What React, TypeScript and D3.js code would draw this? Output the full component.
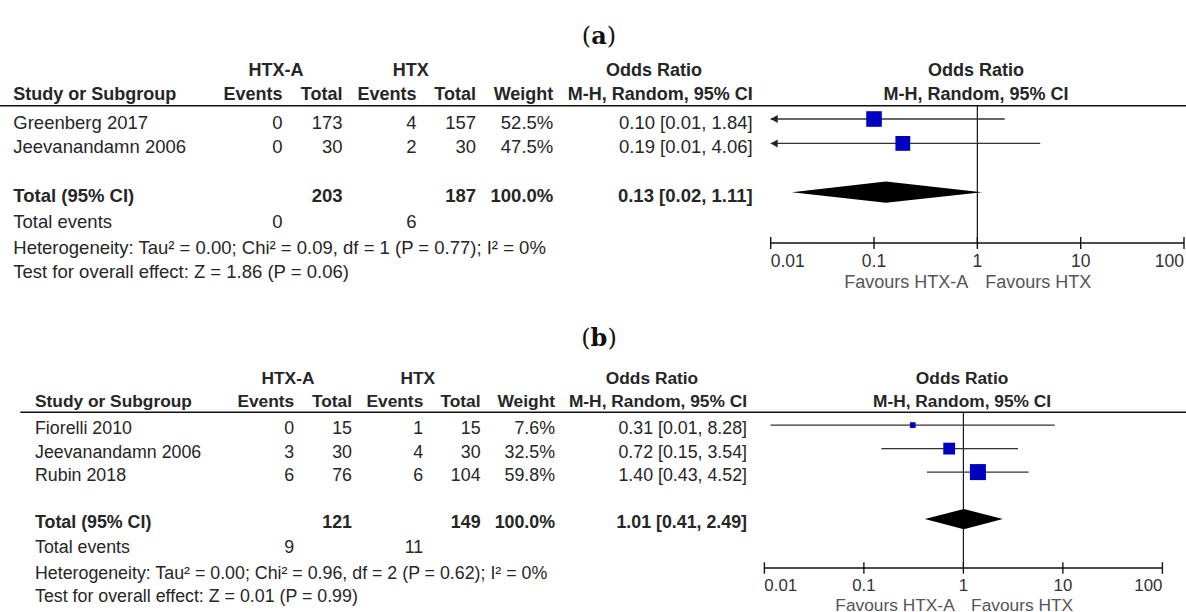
import React from "react";
import * as d3 from "d3";

const W = 1186;
const H = 612;

// ---------- Panel (a) data ----------
const aStudies = ["Greenberg 2017", "Jeevanandamn 2006"];
const aEventsExp = [0, 0];
const aTotalExp = [173, 30];
const aEventsCtl = [4, 2];
const aTotalCtl = [157, 30];
const aWeight = [52.5, 47.5];
const aOR = [0.1, 0.19];
const aLower = [0.005, 0.009];
const aUpper = [1.84, 4.06];
const aCILabels = ["0.10 [0.01, 1.84]", "0.19 [0.01, 4.06]"];
const aTotal = { exp: 203, ctl: 187, or: 0.13, lower: 0.016, upper: 1.11, label: "0.13 [0.02, 1.11]", evExp: 0, evCtl: 6 };
const aHet = "Heterogeneity: Tau\u00B2 = 0.00; Chi\u00B2 = 0.09, df = 1 (P = 0.77); I\u00B2 = 0%";
const aTest = "Test for overall effect: Z = 1.86 (P = 0.06)";

// ---------- Panel (b) data ----------
const bStudies = ["Fiorelli 2010", "Jeevanandamn 2006", "Rubin 2018"];
const bEventsExp = [0, 3, 6];
const bTotalExp = [15, 30, 76];
const bEventsCtl = [1, 4, 6];
const bTotalCtl = [15, 30, 104];
const bWeight = [7.6, 32.5, 59.8];
const bOR = [0.31, 0.72, 1.4];
const bLower = [0.0115, 0.15, 0.43];
const bUpper = [8.28, 3.54, 4.52];
const bCILabels = ["0.31 [0.01, 8.28]", "0.72 [0.15, 3.54]", "1.40 [0.43, 4.52]"];
const bTotal = { exp: 121, ctl: 149, or: 1.01, lower: 0.41, upper: 2.49, label: "1.01 [0.41, 2.49]", evExp: 9, evCtl: 11 };
const bHet = "Heterogeneity: Tau\u00B2 = 0.00; Chi\u00B2 = 0.96, df = 2 (P = 0.62); I\u00B2 = 0%";
const bTest = "Test for overall effect: Z = 0.01 (P = 0.99)";

const axisTicks = [0.01, 0.1, 1, 10, 100];
const tickLabels = ["0.01", "0.1", "1", "10", "100"];
const groupExp = "HTX-A";
const groupCtl = "HTX";
const favLeft = "Favours HTX-A";
const favRight = "Favours HTX";

const FONT = "'Liberation Sans', Arial, Helvetica, sans-serif";
const TXT = "#262626";
const SQ = "#0000C0";

type PanelProps = {
  studies: string[];
  evE: number[];
  totE: number[];
  evC: number[];
  totC: number[];
  weight: number[];
  or: number[];
  lo: number[];
  hi: number[];
  ciLabels: string[];
  total: { exp: number; ctl: number; or: number; lower: number; upper: number; label: string; evExp: number; evCtl: number };
  het: string;
  test: string;
  transform: string;
  lineStart: number;
};

function Panel(p: PanelProps) {
  const x = d3.scaleLog().domain([0.01, 100]).range([770.7, 1184]);
  const size = d3.scaleSqrt().domain([0, 100]).range([0, 21.5]);
  const n = p.studies.length;
  const rowY = (i: number) => 119 + 24.4 * i;
  const base = (i: number) => rowY(i) + 9.5;
  const totI = n + 1;
  const totBase = base(totI);
  const axisY = rowY(totI) + 50.8;
  const headerLineY = 105.7;
  const fs = 18.5;
  const col = { study: 13.3, evE: 282.5, totE: 342.5, evC: 416.5, totC: 476, wt: 553.3, ci: 752.7 };
  const [dmin, dmax] = x.domain();
  return (
    <g transform={p.transform} fontFamily={FONT} fill={TXT}>
      {/* headers */}
      <g fontSize={18} fontWeight={700}>
        <text x={276} y={76} textAnchor="middle">{groupExp}</text>
        <text x={410.8} y={76} textAnchor="middle">{groupCtl}</text>
        <text x={654} y={76} textAnchor="middle">Odds Ratio</text>
        <text x={976} y={76} textAnchor="middle">Odds Ratio</text>
        <text x={col.study} y={100}>Study or Subgroup</text>
        <text x={col.evE} y={100} textAnchor="end">Events</text>
        <text x={col.totE} y={100} textAnchor="end">Total</text>
        <text x={col.evC} y={100} textAnchor="end">Events</text>
        <text x={col.totC} y={100} textAnchor="end">Total</text>
        <text x={col.wt} y={100} textAnchor="end">Weight</text>
        <text x={col.ci} y={100} textAnchor="end">M-H, Random, 95% CI</text>
        <text x={976} y={100} textAnchor="middle">M-H, Random, 95% CI</text>
      </g>
      <line x1={p.lineStart} x2={1220} y1={headerLineY} y2={headerLineY} stroke="#111" strokeWidth={1.6} />
      {/* study rows */}
      <g fontSize={fs}>
        {p.studies.map((s, i) => (
          <g key={s}>
            <text x={col.study} y={base(i)}>{s}</text>
            <text x={col.evE} y={base(i)} textAnchor="end">{p.evE[i]}</text>
            <text x={col.totE} y={base(i)} textAnchor="end">{p.totE[i]}</text>
            <text x={col.evC} y={base(i)} textAnchor="end">{p.evC[i]}</text>
            <text x={col.totC} y={base(i)} textAnchor="end">{p.totC[i]}</text>
            <text x={col.wt} y={base(i)} textAnchor="end">{p.weight[i].toFixed(1)}%</text>
            <text x={col.ci} y={base(i)} textAnchor="end">{p.ciLabels[i]}</text>
          </g>
        ))}
      </g>
      {/* total row */}
      <g fontSize={fs} fontWeight={700}>
        <text x={col.study} y={totBase}>Total (95% CI)</text>
        <text x={col.totE} y={totBase} textAnchor="end">{p.total.exp}</text>
        <text x={col.totC} y={totBase} textAnchor="end">{p.total.ctl}</text>
        <text x={col.wt} y={totBase} textAnchor="end">100.0%</text>
        <text x={col.ci} y={totBase} textAnchor="end">{p.total.label}</text>
      </g>
      <g fontSize={fs}>
        <text x={col.study} y={totBase + 26}>Total events</text>
        <text x={col.evE} y={totBase + 26} textAnchor="end">{p.total.evExp}</text>
        <text x={col.evC} y={totBase + 26} textAnchor="end">{p.total.evCtl}</text>
        <text x={col.study} y={totBase + 52.3}>{p.het}</text>
        <text x={col.study} y={totBase + 76.6}>{p.test}</text>
      </g>
      {/* plot: null line */}
      <line x1={x(1)} x2={x(1)} y1={headerLineY} y2={axisY} stroke="#111" strokeWidth={1.2} />
      {/* CIs and squares */}
      {p.studies.map((s, i) => {
        const y = rowY(i);
        const clipL = p.lo[i] < dmin;
        const clipR = p.hi[i] > dmax;
        const x1 = x(Math.max(p.lo[i], dmin));
        const x2 = x(Math.min(p.hi[i], dmax));
        const sz = size(p.weight[i]);
        return (
          <g key={"ci" + s}>
            <line x1={x1} x2={x2} y1={y} y2={y} stroke="#333" strokeWidth={1.3} />
            {clipL && <path d={`M${x1},${y} L${x1 + 7},${y - 4} L${x1 + 7},${y + 4} Z`} fill="#222" />}
            {clipR && <path d={`M${x2},${y} L${x2 - 7},${y - 4} L${x2 - 7},${y + 4} Z`} fill="#222" />}
            <rect x={x(p.or[i]) - sz / 2} y={y - sz / 2} width={sz} height={sz} fill={SQ} />
          </g>
        );
      })}
      {/* diamond */}
      {(() => {
        const y = rowY(totI);
        const h = 10.6;
        const d = `M${x(p.total.lower)},${y} L${x(p.total.or)},${y - h} L${x(p.total.upper)},${y} L${x(p.total.or)},${y + h} Z`;
        return <path d={d} fill="#000" />;
      })()}
      {/* axis */}
      <line x1={x(dmin)} x2={x(dmax)} y1={axisY} y2={axisY} stroke="#111" strokeWidth={1.6} />
      {axisTicks.map((t, i) => (
        <g key={"t" + t}>
          <line x1={x(t)} x2={x(t)} y1={axisY - 6} y2={axisY + 6} stroke="#111" strokeWidth={1.4} />
          <text
            x={x(t)}
            y={axisY + 23.5}
            fontSize={17.5}
            fill="#333"
            textAnchor={i === 0 ? "start" : i === axisTicks.length - 1 ? "end" : "middle"}
          >
            {tickLabels[i]}
          </text>
        </g>
      ))}
      <text x={x(1) - 9} y={axisY + 44.5} fontSize={18} fill="#555" textAnchor="end">{favLeft}</text>
      <text x={x(1) + 8} y={axisY + 44.5} fontSize={18} fill="#555" textAnchor="start">{favRight}</text>
    </g>
  );
}

export default function App() {
  return (
    <svg
      width={W}
      height={H}
      viewBox={`0 0 ${W} ${H}`}
      style={{ position: "absolute", left: 0, top: 0, background: "#fff" }}
    >
      <rect width={W} height={H} fill="#fff" />
      <text x={599} y={43.5} textAnchor="middle" fontFamily="'DejaVu Serif', serif" fontSize={24} fill="#111">
        (<tspan fontWeight={700}>a</tspan>)
      </text>
      <text x={599} y={345.5} textAnchor="middle" fontFamily="'DejaVu Serif', serif" fontSize={24} fill="#111">
        (<tspan fontWeight={700}>b</tspan>)
      </text>
      <Panel
        studies={aStudies}
        evE={aEventsExp}
        totE={aTotalExp}
        evC={aEventsCtl}
        totC={aTotalCtl}
        weight={aWeight}
        or={aOR}
        lo={aLower}
        hi={aUpper}
        ciLabels={aCILabels}
        total={aTotal}
        het={aHet}
        test={aTest}
        transform="translate(0,0)"
        lineStart={0}
      />
      <Panel
        studies={bStudies}
        evE={bEventsExp}
        totE={bTotalExp}
        evC={bEventsCtl}
        totC={bTotalCtl}
        weight={bWeight}
        or={bOR}
        lo={bLower}
        hi={bUpper}
        ciLabels={bCILabels}
        total={bTotal}
        het={bHet}
        test={bTest}
        transform="translate(22.2,310.5) scale(0.963)"
        lineStart={-2}
      />
    </svg>
  );
}
